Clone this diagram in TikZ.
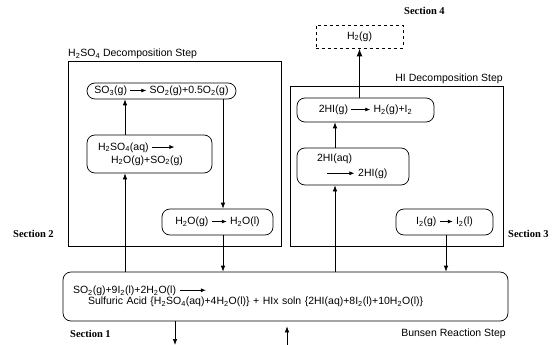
\documentclass[tikz,border=0pt]{standalone}
\usepackage{fontspec}
\setmainfont{Liberation Sans}
\newfontfamily\secfont{Liberation Serif}
\usetikzlibrary{arrows.meta,calc}
\newcommand\sbs[1]{\textsubscript{#1}}
\newcommand\rarr[1]{\tikz[baseline=-3.2pt]\draw[line width=0.7pt,-{Latex[length=5pt,width=4pt]}] (0pt,0pt)--(#1pt,0pt);}
\begin{document}
\begin{tikzpicture}[x=1pt,y=-1pt,
  every node/.style={font=\fontsize{10.5}{13}\selectfont},
  rbox/.style={draw,line width=0.7pt,rounded corners=8pt,inner ysep=0pt},
  frame/.style={draw,line width=0.7pt,inner sep=0pt},
  lbl/.style={inner sep=0pt},
  sec/.style={inner sep=0pt,anchor=base west,font=\secfont\bfseries\fontsize{10.5}{12}\selectfont},
  arr/.style={line width=0.7pt,-{Latex[length=6pt,width=4.5pt]}},
  thickarr/.style={line width=1.8pt,-{Latex[length=8pt,width=6pt]}}]
\useasboundingbox (0,0) rectangle (555,345);
% frames
\node[frame,minimum width=213pt,minimum height=185pt] (lframe) at (174.5,153.5) {};
\node[frame,minimum width=213pt,minimum height=160pt] (rframe) at (396.5,166) {};
\node[lbl,anchor=base west] (ltitle) at (68,57) {H\sbs{2}SO\sbs{4} Decomposition Step};
\node[lbl,anchor=base east] (rtitle) at (503,82) {HI Decomposition Step};
% process boxes
\node[rbox,minimum width=149pt,minimum height=16pt,align=center] (so3) at (161.5,91)
  {SO\sbs{3}(g) \rarr{16} SO\sbs{2}(g)+0.5O\sbs{2}(g)};
\node[rbox,minimum width=125pt,minimum height=38pt,inner xsep=11pt,text width=103pt,align=left,
  font=\fontsize{10.5}{13}\selectfont] (h2so4) at (149.5,154)
  {H\sbs{2}SO\sbs{4}(aq) \rarr{22}\\\hspace*{13pt}H\sbs{2}O(g)+SO\sbs{2}(g)};
\node[rbox,minimum width=111pt,minimum height=26pt,align=center] (h2o) at (217.5,222)
  {H\sbs{2}O(g) \rarr{15} H\sbs{2}O(l)};
\node[rbox,minimum width=137pt,minimum height=24pt,align=center] (hig) at (365.5,110)
  {2HI(g) \rarr{19} H\sbs{2}(g)+I\sbs{2}};
\node[rbox,minimum width=112pt,minimum height=37pt,inner xsep=12pt,text width=88pt,align=left,
  font=\fontsize{10.5}{14.5}\selectfont] (hiaq) at (353,166.5)
  {\hspace*{8pt}2HI(aq)\\\hspace*{18pt}\rarr{27} 2HI(g)};
\node[rbox,minimum width=97pt,minimum height=26pt,align=center] (i2) at (444.5,222)
  {I\sbs{2}(g) \rarr{13} I\sbs{2}(l)};
\node[rbox,minimum width=445pt,minimum height=49pt,inner xsep=10pt,text width=425pt,align=left,
  font=\fontsize{10.5}{11.5}\selectfont] (bun) at (285.5,296.5)
  {SO\sbs{2}(g)+9I\sbs{2}(l)+2H\sbs{2}O(l) \rarr{26}\\\hspace*{15pt}Sulfuric Acid \{H\sbs{2}SO\sbs{4}(aq)+4H\sbs{2}O(l)\} + HIx soln \{2HI(aq)+8I\sbs{2}(l)+10H\sbs{2}O(l)\}};
\node[rbox,dashed,rounded corners=0pt,minimum width=87pt,minimum height=23pt] (h2) at (359.5,36.5) {H\sbs{2}(g)};
\node[lbl,anchor=base east] (btitle) at (506,336) {Bunsen Reaction Step};
% section labels
\node[sec] (s1) at (70,337) {Section 1};
\node[sec] (s2) at (13,237) {Section 2};
\node[sec] (s3) at (508,237) {Section 3};
\node[sec] (s4) at (404,15) {Section 4};
% connector columns
\coordinate (cL) at (125,0);
\coordinate (cR) at (223,0);
\coordinate (cHL) at (335,0);
\coordinate (cHR) at (446,0);
\coordinate (cH) at (359.5,0);
\coordinate (cB1) at (175,345);
\coordinate (cB2) at (287,345);
\draw[arr] (bun.north -| cL) -- (h2so4.south -| cL);
\draw[arr] (h2so4.north -| cL) -- (so3.south -| cL);
\draw[arr] (so3.south -| cR) -- (h2o.north -| cR);
\draw[arr] (h2o.south -| cR) -- (bun.north -| cR);
\draw[arr] (bun.north -| cHL) -- (hiaq.south -| cHL);
\draw[arr] (hiaq.north -| cHL) -- (hig.south -| cHL);
\draw[arr] (i2.south -| cHR) -- (bun.north -| cHR);
\draw[arr] (bun.south -| cB1) -- (cB1);
\draw[arr] (cB2) -- ($(bun.south -| cB2)+(0,5)$);
\draw[thickarr] (hig.north -| cH) -- (h2.south);
\end{tikzpicture}
\end{document}
